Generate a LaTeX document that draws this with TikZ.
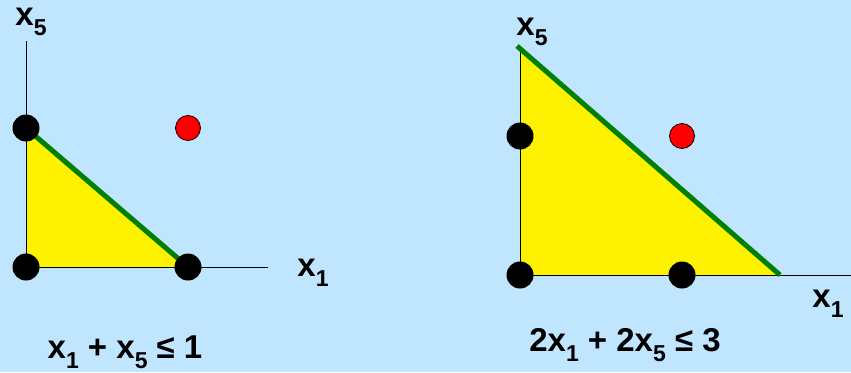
\documentclass[tikz,border=0pt]{standalone}
\usepackage{fontspec}
\setmainfont{Liberation Sans}
\newfontfamily\boldsans{Liberation Sans Bold}
\definecolor{bg}{RGB}{192,230,255}
\definecolor{ggreen}{RGB}{0,128,0}
\newcommand{\sbs}[1]{\raisebox{-0.3em}{\fontsize{23}{24}\selectfont #1}}
\tikzset{
  blackdot/.style={circle,fill=black,minimum size=27pt,inner sep=0pt},
  reddot/.style={circle,fill=red,draw=black,line width=0.8pt,minimum size=25pt,inner sep=0pt},
  axisline/.style={draw=black,line width=1pt},
  bound/.style={draw=ggreen,line width=5pt},
  lbl/.style={font=\boldsans\fontsize{33}{35}\selectfont,inner sep=0pt}
}
\begin{document}
\begin{tikzpicture}[x=1pt,y=-1pt]
\fill[bg] (0,0) rectangle (851,372);
\useasboundingbox (0,0) rectangle (851,372);
% left graph
\coordinate (La) at (26,128);
\coordinate (Lo) at (26,267);
\coordinate (Lb) at (188,267);
\coordinate (Ltop) at (26,41);
\coordinate (Lend) at (268,267);
\fill[yellow] (La) -- (Lo) -- (Lb) -- cycle;
\draw[axisline] (Ltop) -- (Lo) -- (Lend);
\draw[bound] (La) -- (Lb);
\node[blackdot] (l1) at (La) {};
\node[blackdot] (l2) at (Lo) {};
\node[blackdot] (l3) at (Lb) {};
\node[reddot] (l4) at (188,128) {};
\node[lbl] (lx5) at (31,22) {x\sbs{5}};
\node[lbl] (lx1) at (313,273) {x\sbs{1}};
\node[lbl] (leq) at (125,352) {x\sbs{1} + x\sbs{5} ≤ 1};
% right graph
\coordinate (Ra) at (520,47);
\coordinate (Ro) at (520,275);
\coordinate (Rb) at (780,275);
\coordinate (Rend) at (851,275);
\fill[yellow] (Ra) -- (Ro) -- (Rb) -- cycle;
\draw[axisline] (Ra) -- (Ro) -- (Rend);
\draw[bound] (517,46) -- (Rb);
\node[blackdot] (r1) at (520,136) {};
\node[blackdot] (r2) at (Ro) {};
\node[blackdot] (r3) at (682,275) {};
\node[reddot] (r4) at (682,136) {};
\node[lbl] (rx5) at (532,32) {x\sbs{5}};
\node[lbl] (rx1) at (828,304) {x\sbs{1}};
\node[lbl] (req) at (625,345) {2x\sbs{1} + 2x\sbs{5} ≤ 3};
\end{tikzpicture}
\end{document}
